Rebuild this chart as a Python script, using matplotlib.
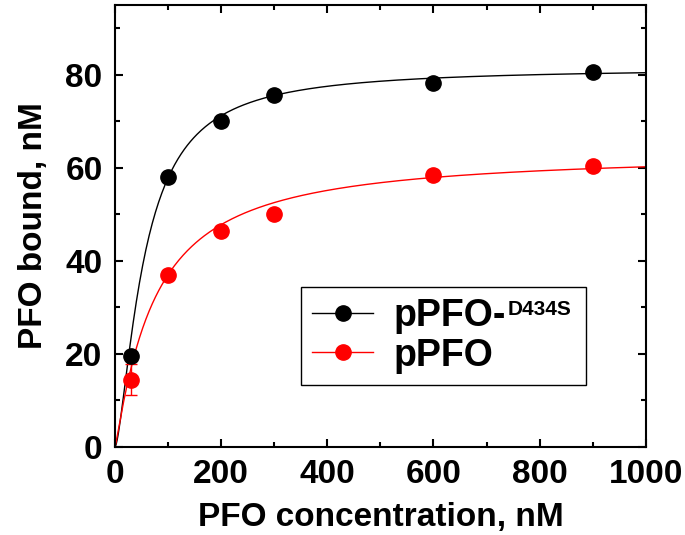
import numpy as np
from matplotlib import pyplot as plt
from matplotlib.ticker import MultipleLocator

plt.rcParams["font.family"] = ["Liberation Sans", "DejaVu Sans"]
plt.rcParams["font.weight"] = "bold"

# measured points
conc = [30, 100, 200, 300, 600, 900]
mut_bound = [19.5, 58.0, 70.0, 75.7, 78.3, 80.6]
mut_err = [1.0, 1.0, 1.0, 1.0, 1.0, 1.0]
wt_bound = [14.5, 37.0, 46.5, 50.0, 58.5, 60.5]
wt_err = [3.3, 1.0, 1.0, 1.0, 1.0, 1.0]

# Hill fit parameters (Bmax, K, n)
mut_fit = (81.5, 55.0, 1.5)
wt_fit = (63.5, 74.0, 1.12)


def hill(x, bmax, k, n):
    return bmax * x**n / (k**n + x**n)


xs = np.linspace(0, 1000, 500)

fig = plt.figure(figsize=(6.85, 5.35), dpi=100)
ax = fig.add_axes([0.168, 0.1645, 0.7746, 0.826])

ax.plot(xs, hill(xs, *mut_fit), color="black", lw=1.0)
ax.plot(xs, hill(xs, *wt_fit), color="red", lw=1.0)
ax.errorbar(conc, mut_bound, yerr=mut_err, fmt="none", ecolor="black",
            elinewidth=1, capsize=4)
ax.errorbar(conc, wt_bound, yerr=wt_err, fmt="none", ecolor="red",
            elinewidth=1, capsize=4)
ax.plot(conc, mut_bound, "o", color="black", ms=11, zorder=5)
ax.plot(conc, wt_bound, "o", color="red", ms=11, zorder=5)

# legend proxies
h1, = ax.plot([], [], "-o", color="black", lw=1.0, ms=11)
h2, = ax.plot([], [], "-o", color="red", lw=1.0, ms=11)
leg = ax.legend([h1, h2], ["pPFO-", "pPFO"],
                loc="upper left", bbox_to_anchor=(0.35, 0.0, 0.5376, 0.363),
                mode="expand", borderaxespad=0, fancybox=False,
                edgecolor="black", framealpha=1, fontsize=27,
                handlelength=1.63, handletextpad=0.55, labelspacing=0.1,
                borderpad=0.3)
leg.get_frame().set_linewidth(1.0)

ax.set_xlim(0, 1000)
ax.set_ylim(0, 95)
ax.xaxis.set_major_locator(MultipleLocator(200))
ax.xaxis.set_minor_locator(MultipleLocator(100))
ax.yaxis.set_major_locator(MultipleLocator(20))
ax.yaxis.set_minor_locator(MultipleLocator(10))
ax.tick_params(which="both", direction="in", top=True, right=True,
               width=1.5, labelsize=24)
ax.tick_params(which="major", length=6)
ax.tick_params(which="minor", length=3.5)
ax.tick_params(axis="x", pad=9)
ax.tick_params(axis="y", pad=9)
for s in ax.spines.values():
    s.set_linewidth(1.5)

ax.set_xlabel("PFO concentration, nM", fontsize=24, fontweight="bold",
              labelpad=8)
ax.set_ylabel("PFO bound, nM", fontsize=24, fontweight="bold", labelpad=12)

# superscript after the first legend entry
fig.canvas.draw()
bb = leg.get_texts()[0].get_window_extent()
fig.text((bb.x1 + 1) / fig.bbox.width, (bb.y1 - 2) / fig.bbox.height,
         "D434S", fontsize=15, fontweight="bold", va="top", ha="left")

fig.savefig("out.png", dpi=100)
